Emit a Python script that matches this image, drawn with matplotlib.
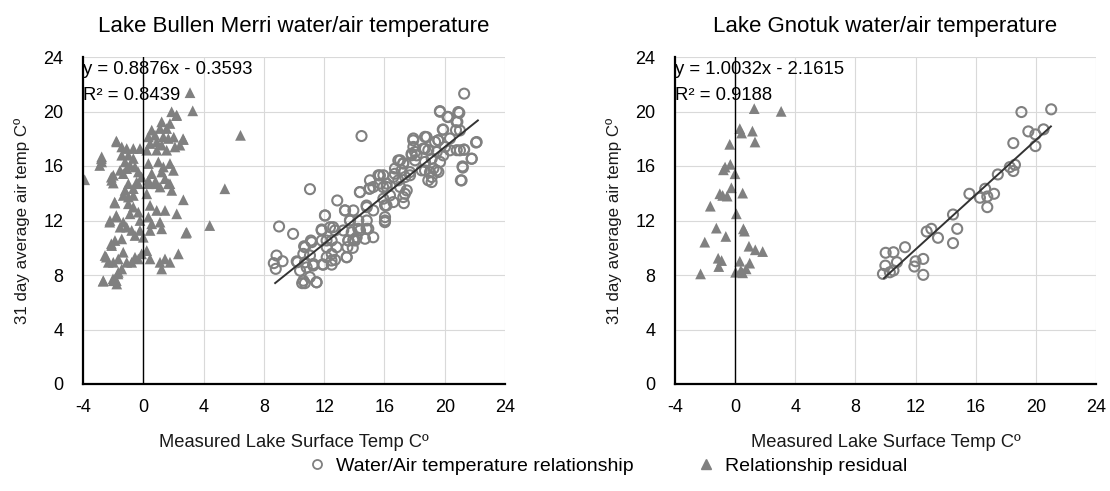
import matplotlib
matplotlib.use("Agg")
import matplotlib.pyplot as plt
from matplotlib.lines import Line2D

plt.rcParams['font.family'] = ['Liberation Sans', 'DejaVu Sans']
plt.rcParams['axes.unicode_minus'] = False

# ---------------- data ----------------
titles = ["Lake Bullen Merri water/air temperature", "Lake Gnotuk water/air temperature"]
x_label = "Measured Lake Surface Temp Cº"
y_label = "31 day average air temp Cº"
x_ticks = [-4, 0, 4, 8, 12, 16, 20, 24]
y_ticks = [0, 4, 8, 12, 16, 20, 24]
legend_labels = ["Water/Air temperature relationship", "Relationship residual"]

# Lake Bullen Merri: water/air relationship (lake temp, air temp)
bm_circ_x = [8.84, 8.66, 8.79, 9.24, 9.01, 9.94, 10.23, 10.67, 11.06, 11.12, 10.54, 10.72, 11.05, 11.49,
             11.27, 11.89, 12.05, 11.83, 12.16, 12.49, 12.60, 12.87, 13.49, 13.60, 13.93, 13.38, 13.71,
             14.37, 14.48, 14.26, 14.81, 14.99, 14.81, 15.26, 15.70, 15.92, 16.03, 16.14, 16.69, 16.92,
             17.25, 17.36, 17.29, 17.69, 17.80, 17.91, 18.13, 18.80, 18.69, 18.69, 19.13, 19.02, 19.46,
             19.57, 19.68, 19.90, 19.90, 20.24, 20.35, 20.90, 20.79, 21.01, 21.01, 21.12, 21.18, 21.29,
             21.29, 21.79, 22.12,
             10.73, 11.17, 10.62, 11.06, 10.18, 10.73, 11.28, 11.95, 12.50, 10.40, 10.84, 10.62, 11.50,
             11.84, 12.39, 12.06, 12.72, 11.84, 12.50, 12.17, 12.83, 12.50, 12.17, 12.72, 13.39, 13.94,
             13.72, 13.27, 13.83, 13.61, 14.05, 13.54, 13.90, 13.50, 14.38, 15.04, 14.83, 14.27, 14.83,
             14.38, 14.93, 14.16, 14.71, 15.26, 15.60, 16.15, 15.93, 16.04, 16.04,
             19.69, 20.18, 20.97, 20.84, 20.75, 19.87, 20.35, 19.58, 20.02, 20.80, 21.28, 22.08, 21.79,
             21.20, 21.07, 18.69, 19.36, 18.91, 19.47, 19.14, 19.69, 19.25, 19.58, 18.91, 19.14, 17.92,
             17.92, 18.03, 17.81, 18.58, 18.69, 18.47, 18.03, 17.04, 17.25, 16.70, 17.14, 16.59, 17.37,
             17.70, 16.92, 15.93, 15.71, 16.15, 17.48, 17.04, 16.37, 17.25, 16.59, 16.04, 15.26, 15.04]
bm_circ_y = [9.43, 8.87, 8.45, 9.01, 11.56, 11.02, 8.94, 10.11, 14.30, 10.53, 7.40, 7.40, 7.84, 7.47,
             8.69, 8.77, 12.37, 11.34, 10.53, 9.06, 11.51, 13.47, 9.31, 10.53, 10.58, 12.74, 12.00,
             14.08, 18.20, 11.39, 11.39, 14.33, 13.10, 12.74, 15.31, 14.45, 11.88, 13.10, 15.43, 16.41,
             16.21, 13.96, 13.27, 15.55, 16.90, 17.88, 16.78, 18.12, 17.27, 15.67, 14.82, 15.55, 15.67,
             17.88, 20.03, 18.66, 16.78, 19.59, 17.15, 19.96, 19.23, 18.61, 17.15, 14.94, 15.97, 21.31,
             17.19, 16.53, 17.76,
             10.04, 10.41, 9.55, 9.43, 9.00, 8.93, 8.81, 8.76, 8.76, 8.32, 8.56, 7.58, 7.46,
             11.27, 11.51, 12.37, 11.27, 10.53, 10.53, 10.04, 10.04, 9.55, 9.30, 9.11, 12.74, 12.74,
             12.00, 11.27, 11.14, 10.53, 10.53, 10.04, 9.99, 9.30, 14.09, 14.34, 12.98, 12.00, 12.00,
             11.27, 11.39, 10.77, 10.66, 10.77, 15.32, 14.71, 13.60, 12.25, 12.00,
             19.98, 19.61, 19.90, 19.24, 18.63, 18.68, 18.02, 17.89, 17.40, 17.16, 17.21, 17.72, 16.54,
             15.88, 14.95, 18.14, 17.77, 17.16, 17.03, 16.54, 16.30, 15.81, 15.56, 14.95, 15.19, 18.02,
             17.40, 17.03, 16.79, 17.28, 16.30, 15.68, 16.42, 16.42, 16.18, 15.81, 15.68, 15.19, 15.19,
             15.32, 14.95, 15.32, 14.71, 14.46, 14.21, 14.46, 13.84, 13.72, 13.35, 13.11, 14.46, 14.95]

# Lake Bullen Merri: residuals (residual, air temp)
bm_tri_x = [-3.89, -2.78, -2.89, -2.67, -2.12, -1.79, -2.23, -1.90, -1.79, -2.45, -2.12, -2.01, -1.79,
            -1.68, 6.45, 5.41, 4.41, 3.10, 3.28, 2.02, 2.64, 2.20, 2.82,
            1.88, 2.22, 1.22, 1.77, 0.56, 1.11, 1.55, 0.34, 0.78, 1.33, 1.66, 0.89, 0.45, 1.22, 2.66,
            -1.76, -1.43, -1.10, -0.66, -0.22, 0.23, 0.89, 1.55, 2.10, 2.43, -2.76, -2.76,
            -1.43, -0.99, -0.66, -1.21, -0.88, -0.55, -1.10, -1.54, -1.99, -2.10, -1.33, -0.33, -0.11,
            -0.44, -0.99, 0.34, 0.56, 0.34, 0.78, 1.00, 1.33, 1.22, 1.77, 2.00, 1.44, 1.77,
            -1.99, -1.21, -0.66, -0.33, 0.34, 0.89, 1.11, 1.66, 1.89,
            -1.33, -0.99, -0.66, 0.23, -1.88, -0.99, -0.66, -0.33, -0.88, 0.45, 0.89, 1.44, 2.22, 2.66,
            -2.21, -1.76, -1.33, -1.54, -1.10, -0.77, -0.22, 0.34, 0.56, 1.11, 1.22, 0.45, -0.22,
            -0.55, 0.00, -1.43, -1.88, -2.10, 2.88, 2.33,
            -2.54, -2.32, -1.99, -1.66, -1.33, -1.10, -0.77, -0.55, -0.33, -0.11, 0.23, 0.45, 1.11,
            1.44, 1.77, 1.22, -2.65, -1.99, -1.66, -1.43, -1.76, -1.88]
bm_tri_y = [14.99, 16.53, 16.04, 7.54, 15.18, 17.83, 11.88, 13.35, 12.37, 9.31, 10.29, 7.72, 7.59,
            8.08, 18.25, 14.33, 11.63, 21.38, 20.05, 18.12, 18.00, 19.70, 11.07,
            19.98, 19.73, 19.24, 19.12, 18.63, 18.75, 18.75, 18.14, 18.26, 18.14, 18.02, 17.77, 17.65,
            17.53, 17.94, 17.77, 17.40, 17.28, 17.28, 17.28, 17.16, 17.16, 17.16, 17.40, 17.53, 16.67,
            16.30, 16.79, 16.79, 16.55, 16.30, 16.05, 15.93, 15.81, 15.68, 15.32, 14.95, 15.44, 15.56,
            15.19, 14.82, 14.70, 16.18, 15.44, 14.95, 14.82, 16.30, 15.93, 15.56, 16.18, 15.68, 15.07,
            14.70, 14.75, 14.21, 14.34, 14.70, 14.70, 14.70, 14.46, 14.70, 14.21,
            13.84, 13.72, 13.84, 13.96, 13.28, 13.23, 12.98, 12.61, 12.49, 13.11, 12.74, 12.74, 12.49,
            13.52, 12.00, 12.25, 11.88, 11.51, 11.51, 11.27, 12.00, 12.25, 11.76, 11.88, 11.39, 11.27,
            11.27, 10.90, 10.77, 10.65, 10.53, 10.16, 11.14, 9.55,
            9.43, 8.93, 8.93, 9.18, 9.67, 8.93, 8.93, 9.30, 9.18, 9.55, 9.79, 9.18, 8.93, 9.18, 8.93,
            8.44, 7.58, 7.58, 8.20, 8.44, 7.34, 7.71]

# Lake Gnotuk: water/air relationship
gn_circ_x = [9.83, 9.99, 10.01, 10.53, 10.29, 10.53, 10.76, 11.30, 11.92, 12.00, 12.51, 12.51, 12.74,
             13.05, 13.49, 14.49, 14.49, 14.77, 15.58, 16.28, 16.63, 16.77, 16.77, 17.22, 17.47, 18.27,
             18.50, 18.61, 18.50, 19.04, 19.50, 19.97, 19.97, 20.51, 21.02]
gn_circ_y = [8.08, 8.69, 9.63, 9.67, 8.20, 8.33, 8.94, 10.04, 8.62, 9.01, 9.18, 8.01, 11.19,
             11.39, 10.73, 12.44, 10.34, 11.39, 13.96, 13.67, 14.33, 13.76, 12.98, 13.96, 15.38, 15.92,
             15.63, 16.09, 17.68, 19.96, 18.54, 18.32, 17.46, 18.69, 20.16]

# Lake Gnotuk: residuals
gn_tri_x = [-2.30, -2.02, -1.65, -1.25, -1.13, -0.90, -1.09, -1.02, -0.83, -0.53, -0.62, -0.78, -0.67,
            -0.32, -0.36, -0.25, -0.01, 0.08, 0.03, 0.31, 0.43, 0.31, 0.38, 0.50, 0.50, 0.55, 0.62,
            0.92, 0.97, 0.73, 1.15, 1.32, 1.27, 1.34, 1.83, 3.06]
gn_tri_y = [8.08, 10.41, 13.05, 11.44, 9.23, 9.06, 8.62, 13.96, 13.84, 13.79, 10.83, 15.72, 15.92,
            16.12, 17.59, 14.40, 15.43, 12.49, 8.20, 18.74, 18.42, 9.01, 8.33, 8.16, 14.01, 11.39, 11.22,
            10.11, 8.87, 8.45, 18.56, 17.76, 20.21, 9.85, 9.72, 20.01]

# trend lines: slope, intercept, x-extent
bm_fit = (0.8876, -0.3593, 8.75, 22.2)
gn_fit = (1.0032, -2.1615, 9.9, 21.0)
eq_texts = [("y = 0.8876x - 0.3593", "R² = 0.8439"), ("y = 1.0032x - 2.1615", "R² = 0.9188")]

# ---------------- drawing ----------------
GRAY = "#808080"
fig = plt.figure(figsize=(11.10, 4.91), dpi=100)
ax1 = fig.add_axes([83 / 1110, 1 - 384 / 491, 422 / 1110, 327 / 491])
ax2 = fig.add_axes([675 / 1110, 1 - 384 / 491, 421 / 1110, 327 / 491])

panels = [
    (ax1, bm_circ_x, bm_circ_y, bm_tri_x, bm_tri_y, bm_fit, eq_texts[0], titles[0]),
    (ax2, gn_circ_x, gn_circ_y, gn_tri_x, gn_tri_y, gn_fit, eq_texts[1], titles[1]),
]

for ax, cx, cy, tx, ty, fit, eq, title in panels:
    ax.set_xlim(-4, 24)
    ax.set_ylim(0, 24)
    ax.set_xticks(x_ticks)
    ax.set_yticks(y_ticks)
    ax.grid(True, color="#d9d9d9", linewidth=0.8)
    ax.set_axisbelow(True)
    for s in ["top", "right"]:
        ax.spines[s].set_visible(False)
    for s in ["left", "bottom"]:
        ax.spines[s].set_color("black")
        ax.spines[s].set_linewidth(1.6)
        ax.spines[s].set_zorder(5)
    ax.axvline(0, color="black", linewidth=1.0, zorder=4)
    ax.tick_params(axis="both", length=0, labelsize=13, colors="black")
    ax.tick_params(axis="x", pad=11)
    ax.tick_params(axis="y", pad=14)

    ax.scatter(tx, ty, marker="^", s=60, color=GRAY, edgecolors="none", zorder=3)
    ax.scatter(cx, cy, marker="o", s=52, facecolors="none", edgecolors=GRAY, linewidths=1.5, zorder=3)

    k, b, x0, x1 = fit
    ax.plot([x0, x1], [k * x0 + b, k * x1 + b], color="#333333", linewidth=1.4, zorder=4)

    ax.text(-4, 23.05, eq[0], fontsize=13.3, ha="left", va="center", color="black", zorder=6)
    ax.text(-4, 21.2, eq[1], fontsize=13.3, ha="left", va="center", color="black", zorder=6)

    ax.set_xlabel(x_label, fontsize=13.2, color="#1a1a1a", labelpad=13)
    ax.set_ylabel(y_label, fontsize=12.2, color="#1a1a1a", labelpad=10)
    ax.set_title(title, fontsize=16, color="black", pad=18)

# legend
handles = [
    Line2D([], [], marker="o", linestyle="none", markersize=6.5, markerfacecolor="none",
           markeredgecolor=GRAY, markeredgewidth=1.3),
    Line2D([], [], marker="^", linestyle="none", markersize=7, color=GRAY),
]
fig.legend(handles, legend_labels, loc="center", bbox_to_anchor=(0.547, 1 - 466 / 491), ncol=2,
           frameon=False, fontsize=14, handlelength=1.0, handletextpad=0.5, columnspacing=3.2,
           labelcolor="black")

fig.savefig("out.png", dpi=100)
